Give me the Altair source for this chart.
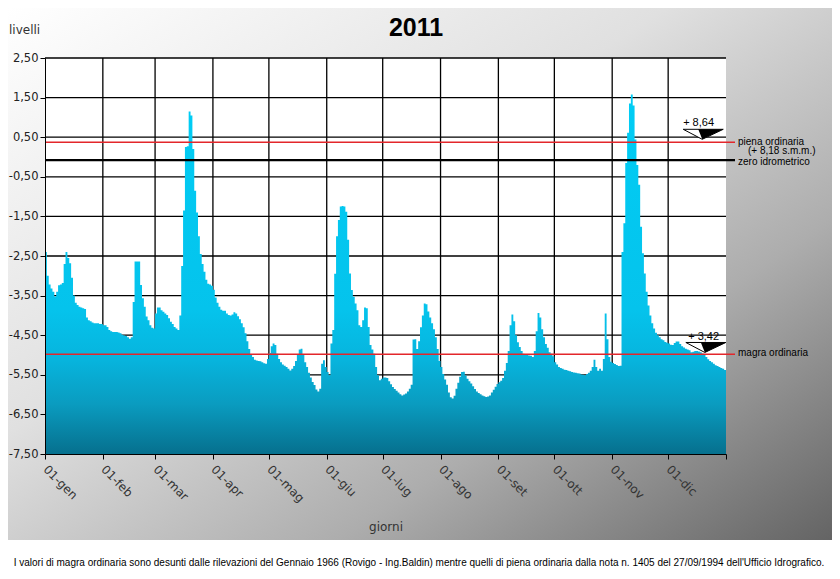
import altair as alt
import pandas as pd

months = ["gen", "feb", "mar", "apr", "mag", "giu", "lug", "ago", "set", "ott", "nov", "dic"]
month_days = [31, 28, 31, 30, 31, 30, 31, 31, 30, 31, 30, 31]

jan = [-2.40, -3.00, -3.22, -3.32, -3.40, -3.52, -3.40, -3.24, -3.22, -3.18, -2.70, -2.40, -2.55,
       -2.68, -3.05, -3.50, -3.68, -3.74, -3.78, -3.80, -3.82, -3.84, -4.05, -4.12, -4.15, -4.18,
       -4.20, -4.20, -4.20, -4.22, -4.22]
feb = [-4.25, -4.25, -4.29, -4.37, -4.40, -4.42, -4.42, -4.42, -4.43, -4.45, -4.49, -4.51, -4.52,
       -4.55, -4.59, -4.55, -3.66, -2.64, -2.64, -2.64, -3.23, -3.57, -3.78, -4.03, -4.12, -4.25,
       -4.31, -4.33]
mar = [-3.95, -3.80, -3.80, -3.87, -3.91, -3.95, -3.99, -4.07, -4.16, -4.22, -4.29, -4.33, -4.37,
       -4.00, -2.75, -1.35, 0.25, 0.27, 1.15, 1.05, 0.20, -0.85, -1.40, -2.00, -2.45, -2.70, -2.90,
       -3.10, -3.20, -3.22, -3.25]
apr = [-3.35, -3.55, -3.68, -3.78, -3.86, -3.88, -3.88, -3.95, -3.99, -4.00, -3.98, -3.92, -3.95,
       -4.02, -4.10, -4.20, -4.30, -4.45, -4.65, -4.85, -4.98, -5.05, -5.12, -5.14, -5.15, -5.16,
       -5.18, -5.21, -5.22, -5.10]
may = [-4.95, -4.78, -4.71, -4.75, -4.97, -5.10, -5.18, -5.24, -5.27, -5.30, -5.35, -5.39, -5.35,
       -5.28, -5.15, -5.00, -4.86, -4.84, -4.99, -5.18, -5.30, -5.45, -5.57, -5.68, -5.76, -5.87,
       -5.92, -5.85, -5.22, -5.13, -5.30]
jun = [-5.43, -5.51, -4.71, -4.37, -2.95, -2.00, -1.59, -1.25, -1.24, -1.25, -1.38, -2.09, -2.94,
       -3.36, -3.53, -3.70, -3.87, -4.25, -4.29, -4.12, -3.80, -3.82, -4.29, -4.75, -4.86, -4.97,
       -5.30, -5.51, -5.64, -5.60]
jul = [-5.57, -5.57, -5.58, -5.66, -5.74, -5.81, -5.86, -5.90, -5.95, -5.99, -6.02, -6.00, -5.97,
       -5.92, -5.85, -5.75, -4.61, -4.60, -4.85, -4.65, -4.30, -4.00, -3.70, -3.72, -3.90, -4.05,
       -4.20, -4.35, -4.55, -4.85, -5.15]
aug = [-5.30, -5.48, -5.62, -5.75, -5.95, -6.07, -6.10, -6.03, -5.85, -5.70, -5.55, -5.43, -5.42,
       -5.52, -5.60, -5.66, -5.72, -5.79, -5.86, -5.92, -5.96, -5.99, -6.02, -6.04, -6.06, -6.05,
       -6.02, -5.95, -5.88, -5.80, -5.73]
sep = [-5.69, -5.65, -5.58, -5.40, -5.20, -4.90, -4.25, -3.98, -4.15, -4.50, -4.68, -4.80, -4.90,
       -4.97, -4.99, -5.00, -5.01, -5.02, -5.05, -4.90, -4.40, -3.94, -4.05, -4.35, -4.55, -4.72,
       -4.82, -4.93, -4.97, -5.03]
oct_ = [-5.18, -5.24, -5.30, -5.33, -5.35, -5.37, -5.38, -5.40, -5.41, -5.43, -5.44, -5.45, -5.46,
        -5.47, -5.49, -5.50, -5.51, -5.48, -5.45, -5.40, -5.30, -5.12, -5.30, -5.40, -5.35, -5.40,
        -5.10, -3.95, -4.60, -5.05, -5.17]
nov = [-5.20, -5.23, -5.25, -5.28, -5.27, -2.40, -1.67, -0.15, 0.61, 1.35, 1.58, 1.30, 0.44,
       -0.20, -0.70, -1.76, -2.43, -2.94, -3.40, -3.75, -4.00, -4.20, -4.33, -4.44, -4.50, -4.55,
       -4.60, -4.63, -4.67, -4.69]
dec = [-4.71, -4.74, -4.75, -4.70, -4.66, -4.66, -4.72, -4.78, -4.81, -4.84, -4.86, -4.88, -4.93,
       -4.92, -4.90, -4.90, -4.91, -4.93, -4.96, -5.00, -5.05, -5.11, -5.15, -5.18, -5.22, -5.26,
       -5.28, -5.30, -5.33, -5.35, -5.38]

y_ticks = [2.5, 1.5, 0.5, -0.5, -1.5, -2.5, -3.5, -4.5, -5.5, -6.5, -7.5]

piena_level = 0.37
zero_level = -0.08
magra_level = -4.98

ref_labels = ["piena ordinaria", "zero idrometrico", "magra ordinaria"]
ref_label_levels = [0.39, -0.13, -4.96]
sub_label = "(+ 8,18 s.m.m.)"
sub_label_level = 0.14

ann_texts = ["+ 8,64", "+ 3,42"]
ann_text_days = [350.3, 353.0]
ann_text_levels = [0.85, -4.54]
tri_days = [352.8, 354.2]
tri_levels = [0.573, -4.81]

footer = ("I valori di magra ordinaria sono desunti dalle rilevazioni del Gennaio 1966 (Rovigo - Ing.Baldin) "
          "mentre quelli di piena ordinaria dalla nota n. 1405 del 27/09/1994 dell'Ufficio Idrografico.")

# ---------------------------------------------------------------------------
levels = jan + feb + mar + apr + may + jun + jul + aug + sep + oct_ + nov + dec
n_days = len(levels)
month_starts = [0]
for n in month_days:
    month_starts.append(month_starts[-1] + n)
tick_labels = ["01-" + m for m in months] + [""]

df = pd.DataFrame({"day": list(range(n_days)) + [n_days], "level": levels + [levels[-1]]})

W, H = 681, 396
one = pd.DataFrame({"k": [0]})

x_label_expr = ("[" + ",".join("'%s'" % t for t in tick_labels) + "][indexof(["
                + ",".join(str(v) for v in month_starts) + "], datum.value)]")
y_label_expr = "(datum.value < 0 ? '-' : '') + replace(format(abs(datum.value), '.2f'), '.', ',')"

x_enc = alt.X("day:Q", scale=alt.Scale(domain=[0, n_days], nice=False, zero=False),
              axis=alt.Axis(values=month_starts, labelExpr=x_label_expr, labelAngle=45,
                            labelAlign="left", labelBaseline="middle", labelPadding=8,
                            tickSize=5, grid=False, title=None, domainColor="black",
                            tickColor="black", labelFont="DejaVu Sans", labelFontSize=12,
                            labelColor="#333333", labelOverlap=False, labelBound=False,
                            labelFlush=False, zindex=1))
y_enc = alt.Y("level:Q", scale=alt.Scale(domain=[-7.5, 2.5], nice=False, zero=False),
              axis=alt.Axis(values=y_ticks, labelExpr=y_label_expr, tickSize=5, labelPadding=2,
                            grid=False, title=None, domainColor="black", tickColor="black",
                            labelFont="DejaVu Sans", labelFontSize=11.5, labelColor="#222222",
                            labelOverlap=False, labelFlush=False, zindex=1))

bg = alt.Chart(one).mark_rect(
    color=alt.LinearGradient(gradient="linear", x1=0, y1=0, x2=1, y2=1,
                             stops=[alt.GradientStop(offset=0, color="#ffffff"),
                                    alt.GradientStop(offset=0.4, color="#e0e0e0"),
                                    alt.GradientStop(offset=0.7, color="#adadad"),
                                    alt.GradientStop(offset=1, color="#646464")])
).encode(x=alt.value(-37), x2=alt.value(W + 106), y=alt.value(-50), y2=alt.value(482))

plot_bg = alt.Chart(one).mark_rect(color="white").encode(
    x=alt.value(0), x2=alt.value(W), y=alt.value(0), y2=alt.value(H))

hgrid = alt.Chart(pd.DataFrame({"level": y_ticks[:-1]})).mark_rule(
    color="black", strokeWidth=1.3).encode(y=y_enc, x=alt.value(0), x2=alt.value(W))
vgrid = alt.Chart(pd.DataFrame({"day": month_starts[1:-1]})).mark_rule(
    color="black", strokeWidth=1.3).encode(x=x_enc, y=alt.value(0), y2=alt.value(H))

area = alt.Chart(df).mark_area(
    interpolate="step-after", opacity=1,
    color=alt.LinearGradient(gradient="linear", x1=0, y1=0, x2=0, y2=1,
                             stops=[alt.GradientStop(offset=0, color="#00cdf5"),
                                    alt.GradientStop(offset=0.6, color="#05c3ec"),
                                    alt.GradientStop(offset=0.74, color="#07b4dd"),
                                    alt.GradientStop(offset=0.86, color="#0a9cc0"),
                                    alt.GradientStop(offset=1, color="#06708e")])
).encode(x=x_enc, y=y_enc, y2=alt.datum(-7.5))

red = alt.Chart(pd.DataFrame({"level": [piena_level, magra_level]})).mark_rule(
    color="#e3262b", strokeWidth=1.5).encode(y=y_enc, x=alt.value(0), x2=alt.value(W + 9))
black = alt.Chart(pd.DataFrame({"level": [zero_level]})).mark_rule(
    color="black", strokeWidth=2.2).encode(y=y_enc, x=alt.value(0), x2=alt.value(W + 9))

ref_txt = alt.Chart(pd.DataFrame({"level": ref_label_levels, "txt": ref_labels})).mark_text(
    align="left", baseline="middle", font="Liberation Sans", fontSize=10, color="black"
).encode(y=y_enc, x=alt.value(W + 12), text="txt:N")
sub_txt = alt.Chart(pd.DataFrame({"level": [sub_label_level], "txt": [sub_label]})).mark_text(
    align="left", baseline="middle", font="Liberation Sans", fontSize=10, color="black"
).encode(y=y_enc, x=alt.value(W + 22), text="txt:N")

ann_txt = alt.Chart(pd.DataFrame({"day": ann_text_days, "level": ann_text_levels, "txt": ann_texts})).mark_text(
    align="center", baseline="middle", font="Liberation Sans", fontSize=11, color="black"
).encode(x=x_enc, y=y_enc, text="txt:N")

tri_df = pd.DataFrame({"day": tri_days, "level": tri_levels})
tri_white = alt.Chart(tri_df).mark_point(
    shape="M -1 -0.25 L 1 -0.25 L -0.05 0.25 Z", filled=True, fill="white", stroke="black",
    strokeWidth=1, size=1600, opacity=1).encode(x=x_enc, y=y_enc)
tri_black = alt.Chart(tri_df).mark_point(
    shape="M -0.25 -0.25 L 1 -0.25 L -0.05 0.25 Z", filled=True, fill="black", size=1600,
    opacity=1).encode(x=x_enc, y=y_enc)

title = alt.Chart(one).mark_text(
    text="2011", font="Liberation Sans", fontSize=25, fontWeight="bold", color="black",
    align="center", baseline="middle").encode(x=alt.value(371), y=alt.value(-30))
ylab = alt.Chart(one).mark_text(
    text="livelli", font="DejaVu Sans", fontSize=12, color="#333333",
    align="left", baseline="middle").encode(x=alt.value(-36), y=alt.value(-28))
xlab = alt.Chart(one).mark_text(
    text="giorni", font="DejaVu Sans", fontSize=12, color="#333333",
    align="center", baseline="middle").encode(x=alt.value(341), y=alt.value(469))
foot = alt.Chart(one).mark_text(
    text=footer, font="Liberation Sans", fontSize=10, color="black",
    align="center", baseline="middle").encode(x=alt.value(374), y=alt.value(505))

chart = alt.layer(
    bg, plot_bg, hgrid, vgrid, area, red, black, ref_txt, sub_txt,
    tri_white, tri_black, ann_txt, title, ylab, xlab, foot
).properties(
    width=W, height=H,
    padding={"left": 37, "top": 50, "right": 106, "bottom": 117},
    autosize=alt.AutoSizeParams(type="none"),
    background="white",
).configure_view(strokeWidth=0)

chart.save("out.html", embed_options={"renderer": "svg", "actions": False})
